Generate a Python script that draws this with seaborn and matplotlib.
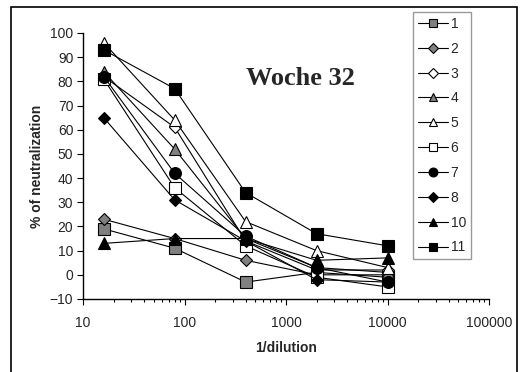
import matplotlib
matplotlib.use("Agg")
import matplotlib.pyplot as plt
from matplotlib.lines import Line2D
from matplotlib.patches import Rectangle
from matplotlib.ticker import FixedLocator, FuncFormatter, LogLocator, NullFormatter
import numpy as np
import pandas as pd
import seaborn as sns

# reciprocal serum dilutions
dilution = [16, 80, 400, 2000, 10000]

# percent neutralization per serum
s1 = [19, 11, -3, 1, -1]
s2 = [23, 15, 6, 0, 0]
s3 = [82, 61, 14, 2, 2]
s4 = [84, 52, 15, 3, 1]
s5 = [96, 64, 22, 10, 3]
s6 = [81, 36, 12, -1, -5]
s7 = [82, 42, 16, 3, -3]
s8 = [65, 31, 14, -2, -3]
s10 = [13, 15, 15, 6, 7]
s11 = [93, 77, 34, 17, 12]

labels = ["1", "2", "3", "4", "5", "6", "7", "8", "10", "11"]
values = [s1, s2, s3, s4, s5, s6, s7, s8, s10, s11]

markers = ["s", "D", "D", "^", "^", "s", "o", "D", "^", "s"]
faces = ["#808080", "#808080", "white", "#808080", "white",
         "white", "black", "black", "black", "black"]
sizes = [8.5, 6.5, 6.5, 8, 8, 8.5, 8.5, 6.5, 8, 8.5]

sns.set_style("white")
plt.rcParams["font.family"] = ["Liberation Sans", "DejaVu Sans"]

fig = plt.figure(figsize=(5.24, 3.72), dpi=100)
ax = fig.add_axes([83 / 524, 1 - 299 / 372, 406 / 524, 266 / 372])

for lab, vals, mk, fc, ms in zip(labels, values, markers, faces, sizes):
    df = pd.DataFrame({"dilution": dilution, "pct": vals})
    sns.lineplot(data=df, x="dilution", y="pct", ax=ax, color="black",
                 linewidth=0.8, marker=mk, markersize=ms,
                 markerfacecolor=fc, markeredgecolor="black",
                 markeredgewidth=0.8, legend=False)

ax.set_xscale("log")
ax.set_xlim(10, 100000)
ax.set_ylim(-10, 100)
ax.yaxis.set_major_locator(FixedLocator(np.arange(-10, 101, 10)))
ax.xaxis.set_major_locator(FixedLocator([10, 100, 1000, 10000, 100000]))
ax.xaxis.set_major_formatter(FuncFormatter(lambda v, p: f"{int(round(v))}"))
ax.xaxis.set_minor_locator(LogLocator(base=10, subs=np.arange(2, 10)))
ax.xaxis.set_minor_formatter(NullFormatter())

for side in ["top", "right"]:
    ax.spines[side].set_visible(False)
for side in ["left", "bottom"]:
    ax.spines[side].set_color("black")
    ax.spines[side].set_linewidth(1.0)

ax.tick_params(axis="y", which="major", direction="out", length=4, width=0.8,
               color="black", pad=3, labelsize=10, left=True)
ax.tick_params(axis="x", which="major", direction="out", length=4, width=0.8,
               color="black", pad=8, labelsize=10, bottom=True)
ax.tick_params(axis="x", which="minor", direction="out", length=2.5, width=0.8,
               color="black", bottom=True)

ax.set_xlabel("1/dilution", fontsize=10, fontweight="bold", labelpad=8)
ax.set_ylabel("% of neutralization", fontsize=10, fontweight="bold", labelpad=4)

ax.text(0.535, 0.83, "Woche 32", transform=ax.transAxes, ha="center",
        va="center", fontsize=19, fontweight="bold",
        family=["Liberation Serif", "DejaVu Serif"])

handles = [Line2D([], [], color="black", linewidth=0.8, marker=mk,
                  markersize=ms * 0.75, markerfacecolor=fc,
                  markeredgecolor="black", markeredgewidth=0.8)
           for mk, fc, ms in zip(markers, faces, sizes)]
leg = fig.legend(handles, labels, loc="upper left",
                 bbox_to_anchor=(413 / 524, 1 - 12 / 372),
                 frameon=True, fancybox=False, fontsize=10,
                 handlelength=2.2, handletextpad=0.15, labelspacing=0.78,
                 borderpad=0.35, borderaxespad=0, markerfirst=True)
leg.get_frame().set_edgecolor("#808080")
leg.get_frame().set_linewidth(1.0)

# outer chart border
fig.patches.append(Rectangle((11 / 524, -0.02), 506 / 524, 1 - 7 / 372 + 0.02,
                             transform=fig.transFigure, fill=False,
                             edgecolor="black", linewidth=1.2))

fig.savefig("out.png", dpi=100)
